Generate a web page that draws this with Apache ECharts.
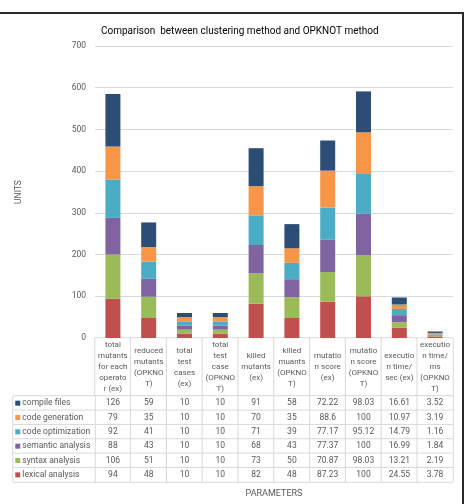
<!DOCTYPE html>
<html>
<head>
<meta charset="utf-8">
<script src="https://cdn.jsdelivr.net/npm/echarts@6/dist/echarts.min.js"></script>
<style>
  html, body { margin: 0; padding: 0; background: #fff; }
  #wrap { position: relative; width: 465px; height: 504px; overflow: hidden; }
  #chart { position: absolute; left: 0; top: 0; width: 465px; height: 504px; }
  #frame { position: absolute; left: -3px; top: 12px; width: 467px; height: 520px; box-sizing: border-box; border: 2px solid #2a2a2a; pointer-events: none; }
</style>
</head>
<body>
<div id="wrap"><div id="chart"></div><div id="frame"></div></div>
<script>
// ---- data ----
const categories = [
  'total\nmutants\nfor each\noperato\nr (ex)',
  'reduced\nmutants\n(OPKNO\nT)',
  'total\ntest\ncases\n(ex)',
  'total\ntest\ncase\n(OPKNO\nT)',
  'killed\nmutants\n(ex)',
  'killed\nmuants\n(OPKNO\nT)',
  'mutatio\nn score\n(ex)',
  'mutatio\nn score\n(OPKNO\nT)',
  'executio\nn time/\nsec (ex)',
  'executio\nn time/\nms\n(OPKNO\nT)'
];
const lexicalAnalysis   = [94, 48, 10, 10, 82, 48, 87.23, 100, 24.55, 3.78];
const syntaxAnalysis    = [106, 51, 10, 10, 73, 50, 70.87, 98.03, 13.21, 2.19];
const semanticAnalysis  = [88, 43, 10, 10, 68, 43, 77.37, 100, 16.99, 1.84];
const codeOptimization  = [92, 41, 10, 10, 71, 39, 77.17, 95.12, 14.79, 1.16];
const codeGeneration    = [79, 35, 10, 10, 70, 35, 88.6, 100, 10.97, 3.19];
const compileFiles      = [126, 59, 10, 10, 91, 58, 72.22, 98.03, 16.61, 3.52];
const seriesNames = ['lexical analysis', 'syntax analysis', 'semantic analysis', 'code optimization', 'code generation', 'compile files'];
const seriesValues = [lexicalAnalysis, syntaxAnalysis, semanticAnalysis, codeOptimization, codeGeneration, compileFiles];
const seriesColors = ['#C0504D', '#9BBB59', '#8064A2', '#4BACC6', '#F79646', '#2C4D75'];
const yMin = 0, yMax = 700, yInterval = 100;
const titleText = 'Comparison  between clustering method and OPKNOT method';

// ---- build ----
const FONT = 'Roboto, "Liberation Sans", Arial, sans-serif';
const textGrey = '#595959';
const lineGrey = '#D9D9D9';
const rowOrder = [5, 4, 3, 2, 1, 0]; // table rows top to bottom

const barSeries = seriesNames.map((n, i) => ({
  name: n, type: 'bar', stack: 'total', barWidth: 15,
  xAxisIndex: 0, yAxisIndex: 0,
  itemStyle: { color: seriesColors[i] },
  data: seriesValues[i]
}));

const headerData = categories.map((c, i) => [i, 0, 0]);
const bodyData = [];
rowOrder.forEach((si, r) => {
  seriesValues[si].forEach((v, c) => bodyData.push([c, r, v]));
});
const legendData = rowOrder.map((si, r) => ({
  value: [0, r, 0],
  label: { formatter: '{box' + si + '|} ' + seriesNames[si] }
}));
const rich = {};
seriesColors.forEach((col, i) => { rich['box' + i] = { width: 5, height: 5, backgroundColor: col }; });

const cellStyle = { color: '#fff', borderColor: lineGrey, borderWidth: 1 };
const hiddenCat = (grid, data, extra) => Object.assign({
  type: 'category', gridIndex: grid, data: data,
  axisLine: { show: false }, axisTick: { show: false }, axisLabel: { show: false }, splitLine: { show: false }
}, extra || {});

const option = {
  animation: false,
  textStyle: { fontFamily: FONT },
  title: {
    text: titleText, left: 96, top: 21,
    textStyle: { fontFamily: FONT, fontSize: 10, fontWeight: 'normal', color: '#000' }
  },
  grid: [
    { left: 95, top: 46, width: 358, height: 292 },
    { left: 95, top: 338, width: 358, height: 58 },
    { left: 95, top: 396, width: 358, height: 86 },
    { left: 13, top: 396, width: 82, height: 86 }
  ],
  xAxis: [
    hiddenCat(0, categories),
    hiddenCat(1, categories),
    hiddenCat(2, categories, { name: 'PARAMETERS', nameLocation: 'middle', nameGap: 7, nameTextStyle: { color: textGrey, fontSize: 9, fontFamily: FONT } }),
    hiddenCat(3, ['legend'])
  ],
  yAxis: [
    {
      type: 'value', gridIndex: 0, min: yMin, max: yMax, interval: yInterval,
      name: 'UNITS', nameLocation: 'middle', nameRotate: 90, nameGap: 72,
      nameTextStyle: { color: textGrey, fontSize: 8.5, fontFamily: FONT },
      axisLine: { show: false }, axisTick: { show: false },
      axisLabel: { color: textGrey, fontSize: 8.5, margin: 9, fontFamily: FONT },
      splitLine: { lineStyle: { color: lineGrey, width: 1 } }
    },
    hiddenCat(1, ['h'], { inverse: true }),
    hiddenCat(2, rowOrder.map(i => seriesNames[i]), { inverse: true }),
    hiddenCat(3, rowOrder.map(i => seriesNames[i]), { inverse: true })
  ],
  series: barSeries.concat([
    {
      type: 'heatmap', xAxisIndex: 1, yAxisIndex: 1, data: headerData,
      itemStyle: cellStyle,
      label: { show: true, color: textGrey, fontSize: 8, lineHeight: 11, fontFamily: FONT,
        formatter: p => categories[p.value[0]] },
      emphasis: { disabled: true }
    },
    {
      type: 'heatmap', xAxisIndex: 2, yAxisIndex: 2, data: bodyData,
      itemStyle: cellStyle,
      label: { show: true, color: textGrey, fontSize: 8.5, fontFamily: FONT,
        formatter: p => String(p.value[2]) },
      emphasis: { disabled: true }
    },
    {
      type: 'heatmap', xAxisIndex: 3, yAxisIndex: 3, data: legendData,
      itemStyle: cellStyle,
      label: { show: true, position: 'insideLeft', distance: 3, color: textGrey, fontSize: 8.5, fontFamily: FONT, rich: rich },
      emphasis: { disabled: true }
    }
  ])
};

const chart = echarts.init(document.getElementById('chart'), null, { renderer: 'canvas' });
chart.setOption(option);
</script>
</body>
</html>
